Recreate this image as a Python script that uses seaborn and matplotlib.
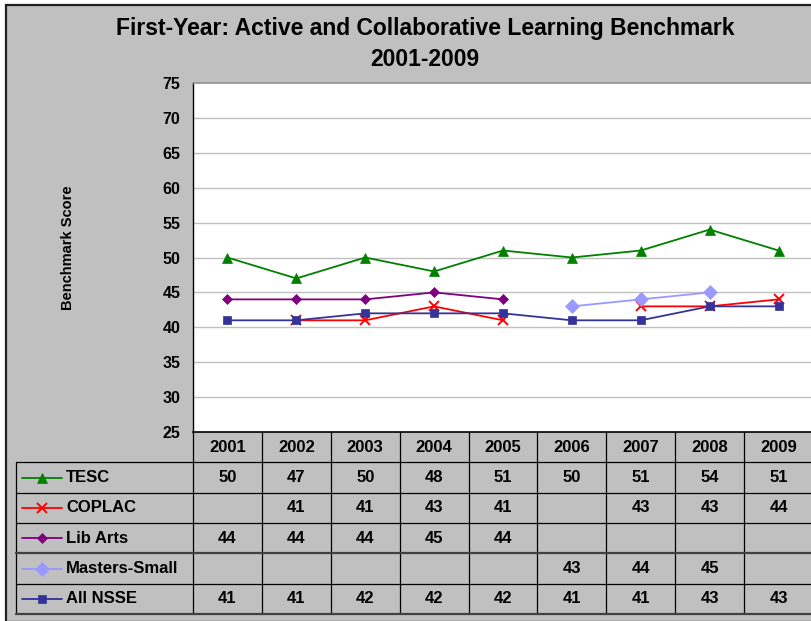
import numpy as np
import pandas as pd
import matplotlib
matplotlib.use("Agg")
import matplotlib.pyplot as plt
from matplotlib.patches import Rectangle
import seaborn as sns

# ---- data ----
years = ["2001", "2002", "2003", "2004", "2005", "2006", "2007", "2008", "2009"]
series_names = ["TESC", "COPLAC", "Lib Arts", "Masters-Small", "All NSSE"]
tesc = [50, 47, 50, 48, 51, 50, 51, 54, 51]
coplac = [None, 41, 41, 43, 41, None, 43, 43, 44]
lib_arts = [44, 44, 44, 45, 44, None, None, None, None]
masters_small = [None, None, None, None, None, 43, 44, 45, None]
all_nsse = [41, 41, 42, 42, 42, 41, 41, 43, 43]
y_ticks = [25, 30, 35, 40, 45, 50, 55, 60, 65, 70, 75]
title = "First-Year: Active and Collaborative Learning Benchmark\n2001-2009"
y_label = "Benchmark Score"

series_values = [tesc, coplac, lib_arts, masters_small, all_nsse]
colors = ["#008000", "#FF0000", "#800080", "#9999FF", "#333399"]
markers = ["^", "x", "D", "D", "s"]
msizes = [7, 7, 5.5, 7.5, 6]

sns.set_style("white")
plt.rcParams["font.family"] = ["Liberation Sans", "DejaVu Sans"]
plt.rcParams["font.weight"] = "bold"
plt.rcParams["text.color"] = "black"
plt.rcParams["ytick.color"] = "black"
plt.rcParams["ytick.labelcolor"] = "black"

W, H = 811, 621
fig = plt.figure(figsize=(W / 100, H / 100), dpi=100)
fig.patch.set_facecolor("white")

def fx(px):
    return px / W

def fy(py):
    return 1 - py / H

# gray chart area with dark border
bg = Rectangle((fx(6), fy(622)), fx(W + 10) - fx(6), fy(5) - fy(622),
               transform=fig.transFigure, facecolor="#C0C0C0",
               edgecolor="#202020", linewidth=1.6, zorder=-10)
fig.patches.append(bg)

plot_left, plot_right, plot_top, plot_bottom = 193, 813, 83, 432
ax = fig.add_axes([fx(plot_left), fy(plot_bottom), fx(plot_right) - fx(plot_left),
                   fy(plot_top) - fy(plot_bottom)])
ax.set_facecolor("white")

# build long data with contiguous segments
rows = []
for name, vals in zip(series_names, series_values):
    seg = 0
    prev = False
    for i, v in enumerate(vals):
        if v is None:
            if prev:
                seg += 1
            prev = False
            continue
        rows.append({"series": name, "x": i, "v": v, "seg": seg})
        prev = True
df = pd.DataFrame(rows)

for k, name in enumerate(series_names):
    d = df[df.series == name]
    sns.lineplot(data=d, x="x", y="v", units="seg", estimator=None, ax=ax,
                 color=colors[k], marker=markers[k], markersize=msizes[k],
                 markeredgecolor=colors[k], markerfacecolor=colors[k],
                 markeredgewidth=1.4 if markers[k] == "x" else 0.5,
                 linewidth=1.3, legend=False, zorder=3 + k)

ax.set_xlim(-0.5, len(years) - 0.5)
ax.set_ylim(25, 75)
ax.set_yticks(y_ticks)
ax.set_yticklabels([str(t) for t in y_ticks], fontsize=11.5, fontweight="bold")
ax.set_xticks([])
ax.set_xlabel("")
ax.set_ylabel("")
for t in y_ticks[1:-1]:
    ax.axhline(t, color="#C0C0C0", linewidth=1.0, zorder=1)
ax.tick_params(axis="y", direction="out", length=5, width=0.8, color="#606060", pad=4)
ax.spines["left"].set_color("#000000")
ax.spines["left"].set_linewidth(1.0)
ax.spines["top"].set_color("#909090")
ax.spines["top"].set_linewidth(1.2)
ax.spines["bottom"].set_color("#000000")
ax.spines["bottom"].set_linewidth(1.2)
ax.spines["right"].set_visible(False)

fig.text(fx(425), fy(44), title, ha="center", va="center", fontsize=16.5,
         fontweight="bold", linespacing=1.5)
fig.text(fx(68), fy(248), y_label, ha="center", va="center", rotation=90,
         fontsize=10.5, fontweight="bold")

# ---- data table ----
tab_bottom = 614
tab = fig.add_axes([fx(plot_left), fy(tab_bottom), fx(plot_right) - fx(plot_left),
                    fy(plot_bottom) - fy(tab_bottom)])
tab.set_xlim(-0.5, len(years) - 0.5)
tab.set_ylim(6, 0)
tab.axis("off")
colw = (plot_right - plot_left) / len(years)

def dx(px):
    return -0.5 + (px - plot_left) / colw

xl = dx(16)
lc = "#000000"
# vertical lines
for k in range(len(years)):
    tab.plot([k - 0.5, k - 0.5], [0, 6], color=lc, lw=0.9, clip_on=False)
tab.plot([xl, xl], [1, 6], color=lc, lw=0.9, clip_on=False)
# horizontal lines
for r in range(1, 7):
    thick = r in (4, 6)
    tab.plot([xl, len(years) - 0.5], [r, r], color="#404040" if thick else lc,
             lw=1.6 if thick else 0.9, clip_on=False)

tfs = 12
for i, yr in enumerate(years):
    tab.text(i, 0.5, yr, ha="center", va="center", fontsize=tfs, fontweight="bold")

for k, (name, vals) in enumerate(zip(series_names, series_values)):
    r = k + 1.5
    tab.plot([dx(22), dx(62)], [r, r], color=colors[k], lw=1.3, clip_on=False)
    tab.plot([dx(42)], [r], marker=markers[k], color=colors[k], markersize=msizes[k],
             markeredgecolor=colors[k],
             markeredgewidth=1.4 if markers[k] == "x" else 0.5, clip_on=False)
    tab.text(dx(66), r, name, ha="left", va="center", fontsize=tfs, fontweight="bold")
    for i, v in enumerate(vals):
        if v is not None:
            tab.text(i, r, str(v), ha="center", va="center", fontsize=tfs,
                     fontweight="bold")

fig.savefig("out.png", dpi=100, facecolor=fig.get_facecolor())
